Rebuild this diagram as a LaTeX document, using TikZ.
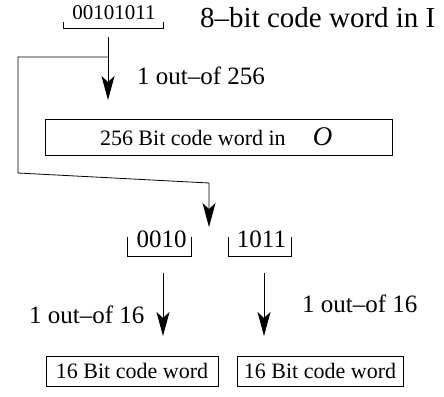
\documentclass[tikz,border=0pt]{standalone}
\usepackage{fontspec}
\setmainfont{Liberation Serif}
\usetikzlibrary{arrows.meta}
\tikzset{
  wire/.style={line width=0.8pt},
  arr/.style={wire,-{Stealth[length=24pt,width=13pt,inset=6pt]}},
  bitbox/.style={draw,line width=0.8pt,inner sep=0pt,minimum height=30pt,font=\fontsize{22}{26}\selectfont},
  lbl/.style={inner sep=0pt,font=\fontsize{25}{30}\selectfont},
  small/.style={inner sep=0pt,font=\fontsize{21}{25}\selectfont},
}
\begin{document}
\begin{tikzpicture}[x=1pt,y=-1pt]
\useasboundingbox (0,0) rectangle (444,396);
% top code word
\node[small,anchor=base] (code8) at (114,20) {00101011};
\draw[wire] (63,22) -- (63,28) -- (163,28) -- (163,22);
\node[inner sep=0pt,font=\fontsize{29}{34}\selectfont,anchor=base west] (title) at (200,28) {8--bit code word in I};
% first arrow
\coordinate (a1s) at (108,37);
\coordinate (a1e) at (108,100);
\coordinate (j1) at (108,57);
\draw[arr] (a1s) -- (a1e);
\node[lbl,anchor=base west] (l256) at (137,84) {1 out--of 256};
% 256 box
\node[bitbox,minimum width=347pt,minimum height=36pt] (box256) at (218.5,137)
  {\makebox[347pt][l]{\hspace{55pt}256 Bit code word in\hspace{27pt}{\fontsize{27}{30}\selectfont\textit{O}}}};
% bypass connector
\coordinate (c1) at (18,57);
\coordinate (c2) at (18,173);
\coordinate (c3) at (209,183);
\coordinate (c4) at (209,227);
\draw[arr] (j1) -- (c1) -- (c2) -- (c3) -- (c4);
% split nibbles
\node[lbl,anchor=base] (n1) at (161.5,247) {0010};
\draw[wire] (127,237) -- (127,256) -- (191,256) -- (191,237);
\node[lbl,anchor=base] (n2) at (261.5,247) {1011};
\draw[wire] (228,237) -- (228,256) -- (291,256) -- (291,237);
% lower arrows
\coordinate (b1s) at (163,273);
\coordinate (b1e) at (163,336);
\coordinate (b2s) at (264,273);
\coordinate (b2e) at (264,336);
\draw[arr] (b1s) -- (b1e);
\draw[arr] (b2s) -- (b2e);
\node[lbl,anchor=base west] (l16a) at (29,323) {1 out--of 16};
\node[lbl,anchor=base west] (l16b) at (302,312) {1 out--of 16};
% bottom boxes
\node[bitbox,minimum width=172pt] (box16a) at (132,371) {16 Bit code word};
\node[bitbox,minimum width=166pt] (box16b) at (320,371) {16 Bit code word};
\end{tikzpicture}
\end{document}
